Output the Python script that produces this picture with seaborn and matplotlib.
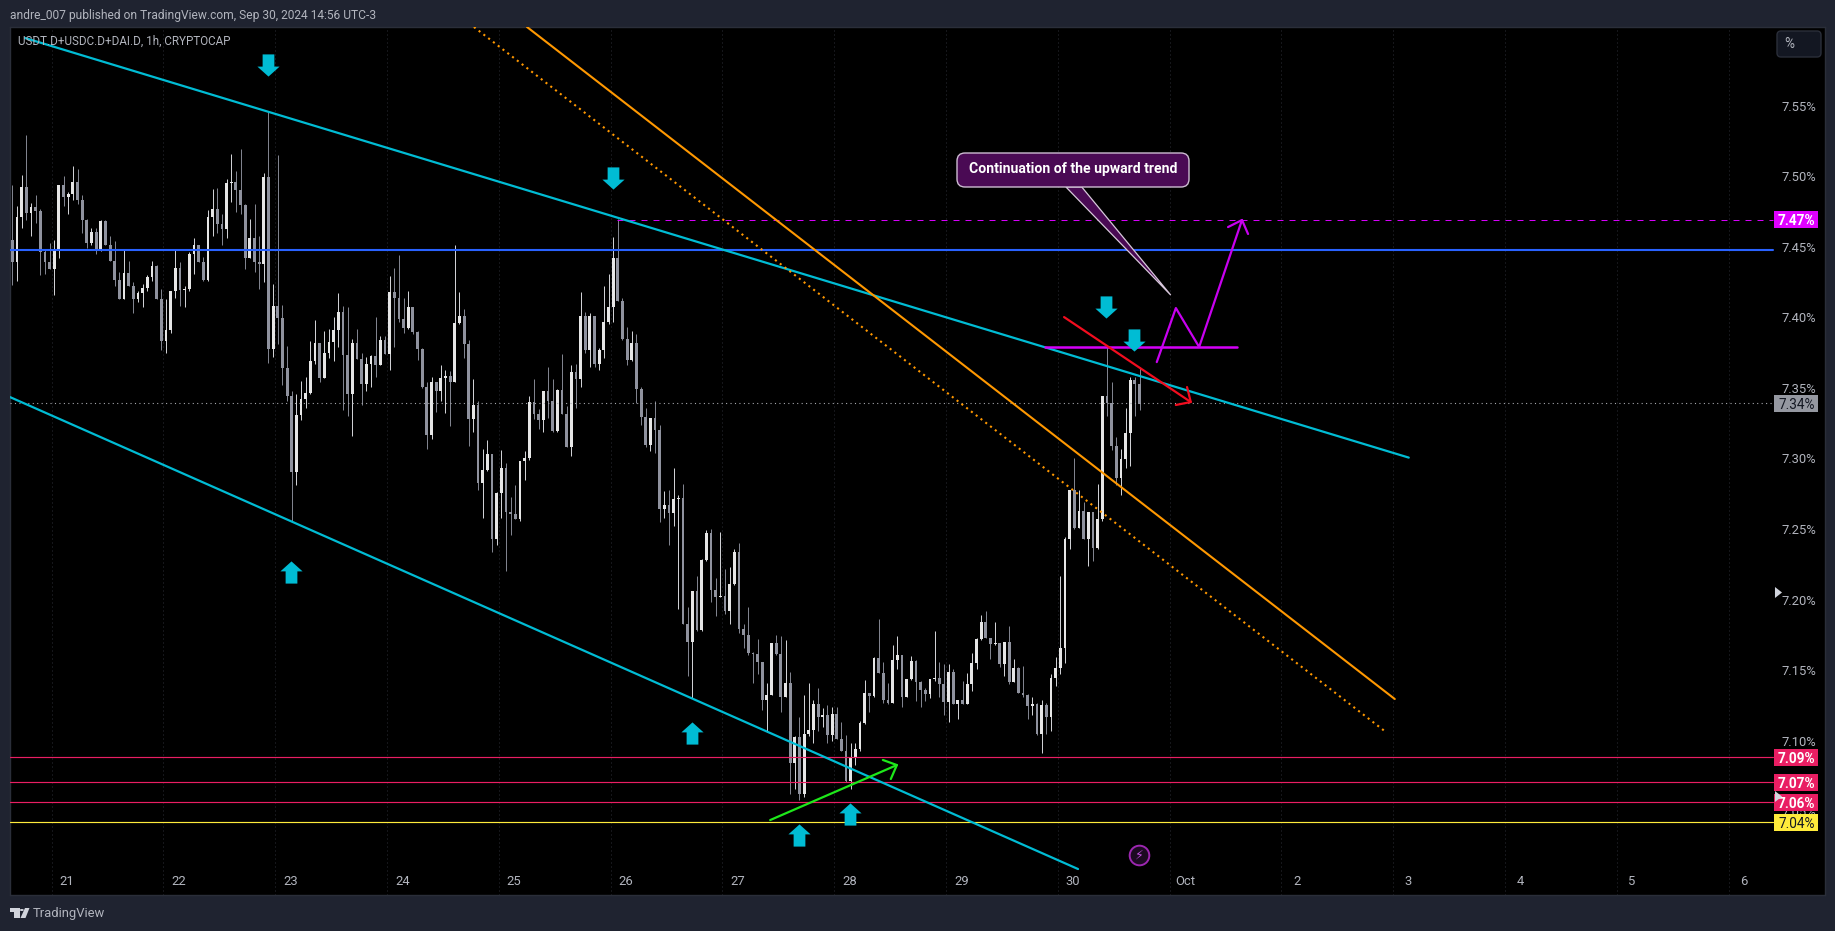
import matplotlib
matplotlib.use("Agg")
import matplotlib.pyplot as plt
from matplotlib.patches import FancyBboxPatch, Polygon, Rectangle, Circle
from matplotlib.path import Path
from matplotlib.transforms import IdentityTransform
import pandas as pd
import seaborn as sns

W, H = 1835, 931

first_open = 7.4548
closes = [
    7.4392, 7.4711, 7.4924, 7.4739, 7.4782, 7.4754, 7.4463, 7.4392, 7.4343, 7.4470,
    7.4938, 7.4853, 7.4874, 7.4959, 7.4832, 7.4690, 7.4527, 7.4605, 7.4470, 7.4683,
    7.4513, 7.4399, 7.4265, 7.4130, 7.4314, 7.4222, 7.4130, 7.4172, 7.4208, 7.4286,
    7.4364, 7.4130, 7.3832, 7.3910, 7.4187, 7.4350, 7.4194, 7.4201, 7.4449, 7.4513,
    7.4392, 7.4265, 7.4711, 7.4768, 7.4661, 7.4626, 7.4952, 7.4956, 7.4902, 7.4796,
    7.4421, 7.4562, 7.4392, 7.4378, 7.4995, 7.3776, 7.4080, 7.3995, 7.3641, 7.3443,
    7.2904, 7.3308, 7.3421, 7.3464, 7.3691, 7.3818, 7.3570, 7.3747, 7.3825, 7.3910,
    7.4038, 7.3733, 7.3457, 7.3818, 7.3705, 7.3528, 7.3669, 7.3726, 7.3662, 7.3839,
    7.3740, 7.4180, 7.4137, 7.3988, 7.3924, 7.4073, 7.3896, 7.3776, 7.3506, 7.3166,
    7.3542, 7.3478, 7.3570, 7.3584, 7.3542, 7.3960, 7.4009, 7.3811, 7.3279, 7.3379,
    7.2826, 7.2918, 7.3031, 7.2429, 7.2755, 7.2932, 7.2620, 7.2606, 7.2571, 7.2982,
    7.3003, 7.3400, 7.3315, 7.3272, 7.3478, 7.3407, 7.3194, 7.3485, 7.3315, 7.3081,
    7.3613, 7.3563, 7.4009, 7.3768, 7.4009, 7.3669, 7.3768, 7.3967, 7.4073, 7.4421,
    7.4116, 7.3846, 7.3698, 7.3818, 7.3492, 7.3294, 7.3095, 7.3287, 7.3202, 7.2642,
    7.2670, 7.2613, 7.2713, 7.2720, 7.1827, 7.1699, 7.2061, 7.1784, 7.2280, 7.2472,
    7.2068, 7.2018, 7.2025, 7.1919, 7.2110, 7.2337, 7.1791, 7.1749, 7.1621, 7.1614,
    7.1557, 7.1288, 7.1323, 7.1692, 7.1614, 7.1309, 7.1408, 7.0841, 7.1026, 7.0622,
    7.1047, 7.1075, 7.1260, 7.1168, 7.1182, 7.1040, 7.1189, 7.1012, 7.0927, 7.0714,
    7.0884, 7.0941, 7.1125, 7.1338, 7.1316, 7.1586, 7.1479, 7.1288, 7.1267, 7.1571,
    7.1607, 7.1309, 7.1437, 7.1564, 7.1416, 7.1359, 7.1330, 7.1437, 7.1444, 7.1401,
    7.1274, 7.1486, 7.1260, 7.1288, 7.1260, 7.1401, 7.1550, 7.1720, 7.1841, 7.1727,
    7.1685, 7.1692, 7.1543, 7.1699, 7.1416, 7.1515, 7.1338, 7.1323, 7.1245, 7.1260,
    7.1047, 7.1253, 7.1168, 7.1444, 7.1515, 7.1656, 7.2429, 7.2776, 7.2507, 7.2627,
    7.2429, 7.2620, 7.2365, 7.2571, 7.3443, 7.3393, 7.3088, 7.2861, 7.2996, 7.3180,
    7.3556, 7.3528, 7.3386,
]
highs = [
    7.494, 7.479, 7.501, 7.529, 7.481, 7.487, 7.477, 7.448, 7.453, 7.455,
    7.494, 7.500, 7.489, 7.507, 7.505, 7.487, 7.470, 7.463, 7.463, 7.469,
    7.469, 7.458, 7.454, 7.432, 7.448, 7.440, 7.425, 7.419, 7.424, 7.430,
    7.440, 7.437, 7.420, 7.413, 7.419, 7.448, 7.439, 7.422, 7.446, 7.456,
    7.451, 7.443, 7.476, 7.491, 7.492, 7.473, 7.498, 7.516, 7.504, 7.519,
    7.480, 7.470, 7.480, 7.458, 7.502, 7.546, 7.424, 7.515, 7.409, 7.380,
    7.348, 7.346, 7.355, 7.358, 7.383, 7.398, 7.382, 7.390, 7.392, 7.400,
    7.417, 7.408, 7.407, 7.385, 7.392, 7.375, 7.372, 7.373, 7.400, 7.387,
    7.387, 7.429, 7.435, 7.444, 7.414, 7.419, 7.407, 7.390, 7.378, 7.354,
    7.358, 7.354, 7.366, 7.363, 7.362, 7.451, 7.418, 7.406, 7.384, 7.356,
    7.341, 7.307, 7.313, 7.303, 7.276, 7.306, 7.297, 7.273, 7.281, 7.298,
    7.305, 7.344, 7.356, 7.335, 7.348, 7.365, 7.356, 7.349, 7.374, 7.337,
    7.366, 7.367, 7.418, 7.404, 7.403, 7.401, 7.378, 7.422, 7.431, 7.457,
    7.470, 7.414, 7.393, 7.390, 7.388, 7.351, 7.336, 7.329, 7.341, 7.324,
    7.277, 7.278, 7.293, 7.274, 7.282, 7.195, 7.206, 7.217, 7.229, 7.249,
    7.250, 7.215, 7.248, 7.222, 7.223, 7.236, 7.240, 7.183, 7.195, 7.163,
    7.172, 7.156, 7.141, 7.169, 7.175, 7.174, 7.171, 7.149, 7.103, 7.117,
    7.132, 7.141, 7.129, 7.137, 7.123, 7.125, 7.124, 7.124, 7.113, 7.104,
    7.098, 7.098, 7.114, 7.143, 7.134, 7.159, 7.186, 7.156, 7.141, 7.168,
    7.174, 7.161, 7.144, 7.160, 7.157, 7.142, 7.137, 7.144, 7.178, 7.156,
    7.154, 7.154, 7.151, 7.129, 7.142, 7.148, 7.162, 7.173, 7.189, 7.192,
    7.173, 7.184, 7.169, 7.170, 7.181, 7.158, 7.152, 7.153, 7.133, 7.131,
    7.127, 7.129, 7.127, 7.147, 7.159, 7.217, 7.244, 7.278, 7.300, 7.278,
    7.269, 7.262, 7.262, 7.282, 7.344, 7.379, 7.354, 7.315, 7.307, 7.336,
    7.358, 7.358, 7.365,
]
lows = [
    7.423, 7.426, 7.463, 7.469, 7.458, 7.467, 7.430, 7.431, 7.434, 7.416,
    7.442, 7.479, 7.473, 7.483, 7.480, 7.460, 7.449, 7.451, 7.445, 7.447,
    7.451, 7.440, 7.422, 7.413, 7.413, 7.422, 7.403, 7.411, 7.407, 7.419,
    7.426, 7.413, 7.377, 7.375, 7.389, 7.414, 7.408, 7.407, 7.419, 7.431,
    7.439, 7.426, 7.426, 7.458, 7.460, 7.451, 7.456, 7.482, 7.475, 7.473,
    7.434, 7.442, 7.432, 7.420, 7.425, 7.368, 7.372, 7.381, 7.352, 7.341,
    7.256, 7.281, 7.327, 7.336, 7.346, 7.367, 7.354, 7.357, 7.371, 7.369,
    7.379, 7.334, 7.330, 7.316, 7.371, 7.338, 7.348, 7.351, 7.358, 7.366,
    7.374, 7.363, 7.379, 7.397, 7.389, 7.392, 7.388, 7.370, 7.350, 7.307,
    7.314, 7.333, 7.341, 7.332, 7.323, 7.354, 7.395, 7.371, 7.309, 7.319,
    7.278, 7.258, 7.291, 7.234, 7.239, 7.258, 7.220, 7.246, 7.257, 7.256,
    7.285, 7.299, 7.328, 7.321, 7.319, 7.329, 7.319, 7.319, 7.332, 7.308,
    7.302, 7.336, 7.351, 7.375, 7.365, 7.365, 7.363, 7.371, 7.395, 7.397,
    7.412, 7.384, 7.366, 7.369, 7.339, 7.324, 7.308, 7.305, 7.304, 7.255,
    7.258, 7.239, 7.252, 7.193, 7.183, 7.146, 7.130, 7.178, 7.178, 7.227,
    7.198, 7.188, 7.202, 7.190, 7.183, 7.210, 7.176, 7.166, 7.161, 7.141,
    7.147, 7.122, 7.106, 7.132, 7.161, 7.120, 7.131, 7.062, 7.066, 7.058,
    7.060, 7.103, 7.098, 7.107, 7.110, 7.098, 7.100, 7.101, 7.093, 7.071,
    7.066, 7.083, 7.093, 7.112, 7.120, 7.131, 7.148, 7.127, 7.126, 7.127,
    7.151, 7.124, 7.131, 7.143, 7.128, 7.124, 7.128, 7.130, 7.142, 7.131,
    7.118, 7.113, 7.126, 7.115, 7.126, 7.126, 7.135, 7.151, 7.171, 7.173,
    7.158, 7.168, 7.152, 7.146, 7.140, 7.142, 7.134, 7.131, 7.115, 7.118,
    7.104, 7.091, 7.105, 7.107, 7.139, 7.147, 7.155, 7.236, 7.250, 7.251,
    7.243, 7.224, 7.227, 7.236, 7.256, 7.330, 7.306, 7.281, 7.274, 7.293,
    7.295, 7.330, 7.334,
]

day_labels = ["21", "22", "23", "24", "25", "26", "27", "28", "29", "30", "Oct", "2", "3", "4", "5", "6"]
day_hours = [11.74 + 24 * i for i in range(len(day_labels))]
grid_hours = [8.46 + 24 * i for i in range(len(day_labels))]
price_ticks = [7.55, 7.50, 7.45, 7.40, 7.35, 7.30, 7.25, 7.20, 7.15, 7.10, 7.05]

blue_level = 7.4477
target_level = 7.4693
last_price = 7.3391
pink_levels = [7.0882, 7.0705, 7.0563]
yellow_level = 7.0421

# price tags on the right
tag_values = [7.47, 7.34, 7.09, 7.07, 7.06, 7.04]
tag_prices = [target_level, last_price, pink_levels[0], pink_levels[1], pink_levels[2], yellow_level]
tag_colors = ["#e000ff", "#9598a1", "#e91e63", "#e91e63", "#e91e63", "#ffeb3b"]
tag_text = ["white", "#131722", "white", "white", "white", "#131722"]

# trend lines, hours and prices of the end points
upper_x, upper_y = [2.73, 299.8], [7.5980, 7.3006]
lower_x, lower_y = [-0.49, 228.8], [7.3435, 7.0090]
orange_x, orange_y = [110.5, 296.8], [7.6058, 7.1295]
dotted_x, dotted_y = [99.1, 294.9], [7.6058, 7.1061]
shelf_x, shelf_y = [221.7, 262.9], [7.3792, 7.3792]
zig_x, zig_y = [245.7, 249.8, 254.8, 264.0], [7.3683, 7.4066, 7.3790, 7.4690]
zig_head_x, zig_head_y = [261.0, 264.0, 265.3], [7.4640, 7.4690, 7.4591]
red_x, red_y = [225.8, 253.0], [7.4002, 7.3400]
red_head_x, red_head_y = [249.8, 253.0, 252.2], [7.3379, 7.3400, 7.3506]
green_x, green_y = [162.7, 189.9], [7.0437, 7.0827]
green_head_x, green_head_y = [186.9, 189.9, 188.6], [7.0863, 7.0827, 7.0728]

down_x, down_y = [54.9, 128.96, 234.8, 240.8], [7.5788, 7.4988, 7.4073, 7.3839]
up_x, up_y = [59.8, 145.9, 168.9, 179.8], [7.2195, 7.1054, 7.0331, 7.0480]

callout_tail_x, callout_tail_y = [226.2, 248.7, 229.6], [7.4924, 7.4158, 7.4924]

BG = "#1f2330"
GREY_TEXT = "#b2b5be"
CYAN = "#00bcd4"
MAGENTA = "#d500f9"


def seg(ax, x, y, color, lw, ls="-", z=4):
    sns.lineplot(x=x, y=y, color=color, linewidth=lw, linestyle=ls, sort=False,
                 estimator=None, ax=ax, zorder=z, legend=False)


def block_arrow(pointing_up):
    pts = [(-0.53, -1), (0.53, -1), (0.53, 0.1), (1, 0.1), (0, 1), (-1, 0.1), (-0.53, 0.1), (-0.53, -1)]
    if not pointing_up:
        pts = [(a, -b) for a, b in pts]
    return Path(pts, closed=True)


def text_px(fig, x, y, s, **kw):
    fig.text(x / W, 1 - y / H, s, **kw)


sns.set_style("dark")
plt.rcParams["font.family"] = ["Roboto", "DejaVu Sans"]

fig = plt.figure(figsize=(W / 100, H / 100), dpi=100, facecolor=BG)
ax = fig.add_axes([10 / W, 1 - 895 / H, 1815 / W, 868 / H], facecolor="black")

# candles
opens = [first_open] + closes[:-1]
candles = pd.DataFrame({"open": opens, "close": closes, "high": highs, "low": lows})
candles["hour"] = candles.index
candles["bottom"] = candles[["open", "close"]].min(axis=1)
candles["size"] = (candles["close"] - candles["open"]).abs()
for rising, color in [(True, "#e6e6e6"), (False, "#8f929e")]:
    part = candles[(candles["close"] >= candles["open"]) == rising]
    ax.vlines(part["hour"], part[["low", "bottom"]].min(axis=1), part[["high", "open", "close"]].max(axis=1),
              color="#cfd0d4" if rising else "#80838e", linewidth=0.72, zorder=2)
    ax.bar(part["hour"], part["size"], bottom=part["bottom"], width=0.6, color=color, linewidth=0, zorder=3)

ax.vlines(grid_hours, 6.9906, 7.6058, color="#2a2d35", linewidth=0.72, linestyles=(0, (1, 3)), zorder=1)

# levels
tag_left = 378.0
seg(ax, [-0.49, tag_left], [blue_level, blue_level], "#2962ff", 1.5)
seg(ax, [129.8, tag_left], [target_level, target_level], MAGENTA, 0.72, (0, (6, 6)))
seg(ax, [-0.49, tag_left], [last_price, last_price], "#a6a8ad", 0.8, (0, (1, 3)))
for level in pink_levels:
    seg(ax, [-0.49, tag_left], [level, level], "#e91e63", 0.85)
seg(ax, [-0.49, tag_left], [yellow_level, yellow_level], "#ffeb3b", 0.85)

# trend lines
seg(ax, upper_x, upper_y, CYAN, 1.6)
seg(ax, lower_x, lower_y, CYAN, 1.6)
seg(ax, orange_x, orange_y, "#ff9800", 1.5)
seg(ax, dotted_x, dotted_y, "#ff9800", 1.5, (0, (1, 1.9)))
seg(ax, shelf_x, shelf_y, MAGENTA, 1.8, z=5)
seg(ax, zig_x, zig_y, "#c800f0", 1.6, z=5)
seg(ax, zig_head_x, zig_head_y, "#c800f0", 1.6, z=5)
seg(ax, red_x, red_y, "#f20d1f", 1.6, z=5)
seg(ax, red_head_x, red_head_y, "#f20d1f", 1.6, z=5)
seg(ax, green_x, green_y, "#1ee81a", 1.6, z=5)
seg(ax, green_head_x, green_head_y, "#1ee81a", 1.6, z=5)

# cyan markers
sns.scatterplot(x=down_x, y=down_y, marker=block_arrow(False), s=255, color=CYAN, linewidth=0, ax=ax, zorder=6, legend=False)
sns.scatterplot(x=up_x, y=up_y, marker=block_arrow(True), s=255, color=CYAN, linewidth=0, ax=ax, zorder=6, legend=False)

# small triangles on the scale, above the tags
scale_triangle = Path([(-0.64, -1), (0.64, 0), (-0.64, 1), (-0.64, -1)], closed=True)
sns.scatterplot(x=[379.0, 379.0], y=[7.2053, 7.0607], marker=scale_triangle, s=63, color="#d1d4dc", linewidth=0, ax=ax, zorder=10, legend=False)

# lightning badge
sns.scatterplot(x=[241.9], y=[7.0189], marker="o", s=200, facecolor="#1c0a22", edgecolor="#9c27b0", linewidth=1.4, ax=ax, zorder=6, legend=False)
ax.text(241.9, 7.0189, "\u26a1", family=["DejaVu Sans"], color="#c050e0", fontsize=9, ha="center", va="center", zorder=7)

# tags
for value, price, color, txt in zip(tag_values, tag_prices, tag_colors, tag_text):
    ax.barh(price, 9.45, left=378.2, height=0.012, color=color, linewidth=0, zorder=8)
    ax.text(383.0, price, f"{value:.2f}%", color=txt, fontsize=9.8, ha="center", va="center_baseline",
            fontweight="bold" if txt == "white" else "normal", zorder=9)

ax.set_xlim(-0.494, 389.16)
ax.set_ylim(6.9906, 7.6058)
ax.set_xticks(day_hours, day_labels)
ax.yaxis.tick_right()
ax.set_yticks(price_ticks, [f"{p:.2f}%" for p in price_ticks])
ax.tick_params(axis="x", length=0, pad=-14.5, labelcolor=GREY_TEXT, labelsize=9.4)
ax.tick_params(axis="y", length=0, pad=-31, labelcolor=GREY_TEXT, labelsize=9.4)
ax.grid(False)
ax.set_xlabel("")
ax.set_ylabel("")
for spine in ax.spines.values():
    spine.set_color("#2a2e39")
    spine.set_linewidth(1.0)

# callout
ax.add_patch(Polygon(list(zip(callout_tail_x, callout_tail_y)), closed=True, facecolor="#4a0a54",
                     edgecolor="#d8c8dc", linewidth=0.9, zorder=9))
disp = IdentityTransform()
ax.add_patch(FancyBboxPatch((957, H - 187), 232, 34, boxstyle="round,pad=0,rounding_size=8",
                            facecolor="#4a0a54", edgecolor="#cdbcd2", linewidth=1.0,
                            transform=disp, zorder=10, clip_on=False))
text_px(fig, 1073, 169, "Continuation of the upward trend", color="white", fontsize=10.1, fontweight="bold",
        ha="center", va="center", zorder=11)

# page furniture
text_px(fig, 10, 15, "andre_007 published on TradingView.com, Sep 30, 2024 14:56 UTC-3",
        color=GREY_TEXT, fontsize=8.65, ha="left", va="center")
text_px(fig, 18, 41, "USDT.D+USDC.D+DAI.D, 1h, CRYPTOCAP", color=GREY_TEXT, fontsize=8.4, ha="left", va="center", zorder=8)

ax.add_patch(FancyBboxPatch((1777, H - 57), 44, 26, boxstyle="round,pad=0,rounding_size=4",
                            facecolor="#131722", edgecolor="#2a2e39", linewidth=1.0,
                            transform=disp, zorder=10, clip_on=False))
text_px(fig, 1789, 44, "%", color=GREY_TEXT, fontsize=9.8, ha="center", va="center", zorder=11)

logo = "#d1d4dc"
fig.add_artist(Rectangle((10 / W, 1 - 912 / H), 9.5 / W, 4 / H, transform=fig.transFigure, facecolor=logo, linewidth=0))
fig.add_artist(Rectangle((14 / W, 1 - 918 / H), 5.5 / W, 6 / H, transform=fig.transFigure, facecolor=logo, linewidth=0))
fig.add_artist(Circle((21.8 / W, 1 - 910 / H), 2 / W, transform=fig.transFigure, facecolor=logo, linewidth=0))
fig.add_artist(Polygon([(25 / W, 1 - 908 / H), (29.5 / W, 1 - 908 / H), (25.5 / W, 1 - 918 / H), (20.5 / W, 1 - 918 / H)],
                       closed=True, transform=fig.transFigure, facecolor=logo, linewidth=0))
text_px(fig, 33, 913, "TradingView", color=GREY_TEXT, fontsize=9.4, ha="left", va="center")

fig.savefig("out.png", dpi=100, facecolor=BG)
plt.close(fig)
